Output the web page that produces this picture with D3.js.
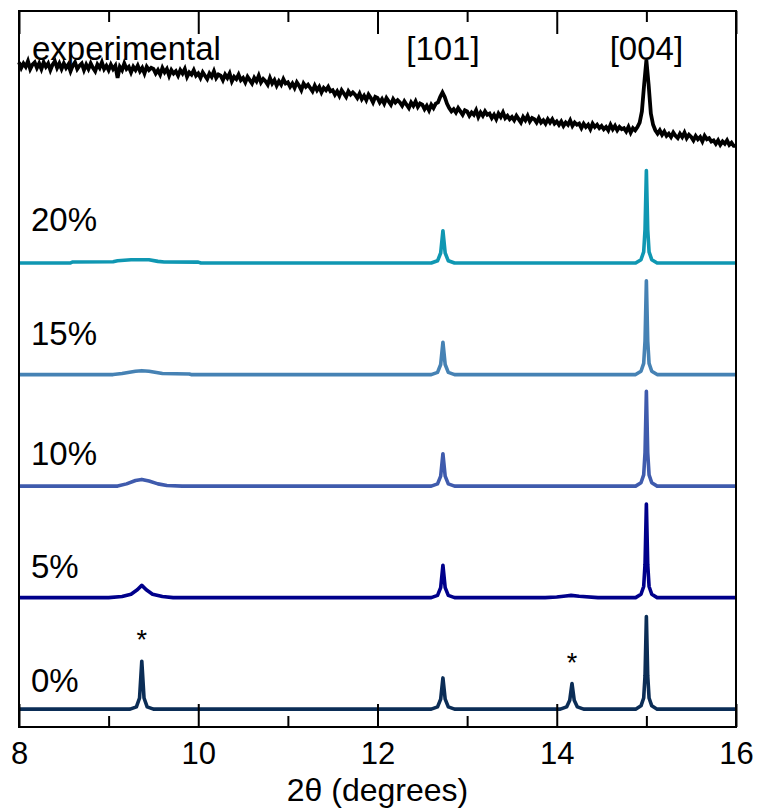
<!DOCTYPE html>
<html>
<head>
<meta charset="utf-8">
<script src="https://cdn.jsdelivr.net/npm/d3@7"></script>
<style>
	body { margin: 0; background: #fff; }
	text { font-family: 'Liberation Sans', Arial, Helvetica, sans-serif; fill: #000; }
</style>
</head>
<body>
<svg id="chart" width="760" height="809"></svg>
<script>
// NOTE data (intensity, arbitrary units, before stacking)
const xMajor = [8, 10, 12, 14, 16];
const xMinor = [9, 11, 13, 15];

const seriesNames = ['0%', '5%', '10%', '15%', '20%'];
const seriesColors = ['#0b2d56', '#00008b', '#3f5bad', '#4682b4', '#0f97b2'];

// experimental scan, one value every 0.025 deg from 8 to 16
const expStart = 8;
const expStep = 0.025;
const expValues = [
	0.80, 0.75, 0.79, 0.76, 0.81, 0.74, 0.78, 0.80, 0.75, 0.79,
	0.74, 0.80, 0.76, 0.79, 0.73, 0.78, 0.81, 0.75, 0.79, 0.74,
	0.79, 0.75, 0.78, 0.72, 0.77, 0.80, 0.74, 0.77, 0.79, 0.73,
	0.78, 0.74, 0.79, 0.75, 0.72, 0.78, 0.75, 0.80, 0.74, 0.77,
	0.73, 0.78, 0.74, 0.77, 0.66, 0.76, 0.73, 0.79, 0.74, 0.76,
	0.71, 0.76, 0.73, 0.77, 0.72, 0.75, 0.70, 0.76, 0.73, 0.75,
	0.74, 0.70, 0.73, 0.69, 0.75, 0.71, 0.74, 0.68, 0.73, 0.70,
	0.72, 0.68, 0.73, 0.70, 0.74, 0.67, 0.71, 0.69, 0.73, 0.68,
	0.70, 0.66, 0.71, 0.68, 0.65, 0.70, 0.67, 0.72, 0.66, 0.69,
	0.68, 0.64, 0.69, 0.66, 0.70, 0.63, 0.67, 0.65, 0.69, 0.64,
	0.66, 0.62, 0.67, 0.64, 0.61, 0.66, 0.63, 0.68, 0.62, 0.65,
	0.63, 0.60, 0.66, 0.61, 0.64, 0.59, 0.63, 0.60, 0.65, 0.61,
	0.62, 0.58, 0.61, 0.57, 0.62, 0.59, 0.55, 0.61, 0.58, 0.60,
	0.57, 0.54, 0.59, 0.55, 0.58, 0.53, 0.57, 0.55, 0.58, 0.54,
	0.55, 0.51, 0.54, 0.50, 0.55, 0.52, 0.49, 0.54, 0.51, 0.53,
	0.51, 0.48, 0.52, 0.47, 0.50, 0.46, 0.51, 0.48, 0.44, 0.49,
	0.48, 0.44, 0.47, 0.43, 0.48, 0.45, 0.42, 0.47, 0.44, 0.46,
	0.44, 0.41, 0.45, 0.42, 0.39, 0.44, 0.41, 0.45, 0.40, 0.43,
	0.42, 0.38, 0.41, 0.37, 0.42, 0.39, 0.43, 0.44, 0.49, 0.53,
	0.49, 0.43, 0.39, 0.36, 0.38, 0.35, 0.39, 0.36, 0.33, 0.37,
	0.36, 0.32, 0.35, 0.33, 0.37, 0.31, 0.35, 0.32, 0.36, 0.33,
	0.34, 0.30, 0.33, 0.29, 0.34, 0.31, 0.35, 0.30, 0.32, 0.29,
	0.31, 0.28, 0.32, 0.29, 0.26, 0.31, 0.28, 0.32, 0.27, 0.30,
	0.29, 0.26, 0.30, 0.26, 0.28, 0.25, 0.29, 0.26, 0.29, 0.25,
	0.27, 0.24, 0.27, 0.23, 0.26, 0.24, 0.28, 0.23, 0.26, 0.24,
	0.25, 0.21, 0.25, 0.22, 0.24, 0.20, 0.25, 0.22, 0.24, 0.21,
	0.23, 0.20, 0.22, 0.19, 0.24, 0.20, 0.23, 0.19, 0.22, 0.20,
	0.21, 0.18, 0.22, 0.17, 0.21, 0.19, 0.22, 0.26, 0.36, 0.60,
	0.82, 0.60, 0.34, 0.24, 0.19, 0.16, 0.19, 0.15, 0.18, 0.14,
	0.16, 0.13, 0.17, 0.14, 0.12, 0.16, 0.13, 0.17, 0.12, 0.15,
	0.13, 0.10, 0.14, 0.11, 0.13, 0.09, 0.14, 0.11, 0.12, 0.09,
	0.10, 0.07, 0.10, 0.06, 0.09, 0.07, 0.10, 0.06, 0.08, 0.05,
	0.05,
];

// simulated patterns, [2theta, intensity]
const sim0 = [
	[8, 0], [9.24, 0], [9.31, 0.02], [9.345, 0.1], [9.37, 0.43], [9.395, 0.1], [9.43, 0.02], [9.5, 0],
	[12.6, 0], [12.67, 0.02], [12.705, 0.09], [12.73, 0.28], [12.755, 0.09], [12.79, 0.02], [12.86, 0],
	[14.04, 0], [14.11, 0.02], [14.145, 0.08], [14.17, 0.23], [14.195, 0.08], [14.23, 0.02], [14.3, 0],
	[14.88, 0], [14.94, 0.03], [14.97, 0.1], [14.985, 0.3], [15.0, 0.83], [15.015, 0.3], [15.03, 0.1], [15.06, 0.03], [15.12, 0],
	[16, 0],
];
const sim5 = [
	[8, 0], [9.0, 0], [9.15, 0.01], [9.25, 0.03], [9.32, 0.07], [9.37, 0.11], [9.42, 0.07], [9.49, 0.03], [9.6, 0.01], [9.72, 0],
	[12.6, 0], [12.67, 0.02], [12.705, 0.09], [12.73, 0.29], [12.755, 0.09], [12.79, 0.02], [12.86, 0],
	[13.87, 0], [14.0, 0.005], [14.1, 0.015], [14.16, 0.02], [14.25, 0.012], [14.46, 0],
	[14.88, 0], [14.94, 0.03], [14.97, 0.1], [14.985, 0.3], [15.0, 0.84], [15.015, 0.3], [15.03, 0.1], [15.06, 0.03], [15.12, 0],
	[16, 0],
];
const sim10 = [
	[8, 0], [9.1, 0], [9.2, 0.02], [9.3, 0.05], [9.37, 0.06], [9.45, 0.045], [9.55, 0.02], [9.65, 0.005], [9.82, 0],
	[12.6, 0], [12.67, 0.02], [12.705, 0.09], [12.73, 0.29], [12.755, 0.09], [12.79, 0.02], [12.86, 0],
	[14.88, 0], [14.94, 0.03], [14.97, 0.1], [14.985, 0.3], [15.0, 0.85], [15.015, 0.3], [15.03, 0.1], [15.06, 0.03], [15.12, 0],
	[16, 0],
];
const sim15 = [
	[8, 0], [9.05, 0], [9.15, 0.01], [9.3, 0.03], [9.37, 0.035], [9.45, 0.03], [9.6, 0.01], [9.9, 0.005], [9.92, 0],
	[12.6, 0], [12.67, 0.02], [12.705, 0.09], [12.73, 0.29], [12.755, 0.09], [12.79, 0.02], [12.86, 0],
	[14.88, 0], [14.94, 0.03], [14.97, 0.1], [14.985, 0.3], [15.0, 0.84], [15.015, 0.3], [15.03, 0.1], [15.06, 0.03], [15.12, 0],
	[16, 0],
];
const sim20 = [
	[8, 0], [8.57, 0], [8.6, 0.01], [9.05, 0.012], [9.1, 0.02], [9.25, 0.03], [9.45, 0.03], [9.55, 0.015], [9.62, 0.01], [10.0, 0.008], [10.03, 0],
	[12.6, 0], [12.67, 0.02], [12.705, 0.09], [12.73, 0.29], [12.755, 0.09], [12.79, 0.02], [12.86, 0],
	[14.88, 0], [14.94, 0.03], [14.97, 0.1], [14.985, 0.3], [15.0, 0.83], [15.015, 0.3], [15.03, 0.1], [15.06, 0.03], [15.12, 0],
	[16, 0],
];
const simSeries = [sim0, sim5, sim10, sim15, sim20];

const peakLabels = ['[101]', '[004]'];
const peakLabelX = [12.73, 15.0];
const impurityX = [9.37, 14.17];

// NOTE layout
var svg = d3.select('#chart'),
	width = +svg.attr('width'),
	height = +svg.attr('height');

const margin = { top: 11, right: 24, bottom: 82, left: 19 };
const innerW = width - margin.left - margin.right;
const innerH = height - margin.top - margin.bottom;
const offsets = [0, 1, 2, 3, 4];
const expOffset = 5;

var x = d3.scaleLinear().domain([8, 16]).range([0, innerW]);
var y = d3.scaleLinear().domain([-0.16, 6.26]).range([innerH, 0]);

var g = svg
	.append('g')
	.attr('transform', 'translate(' + margin.left + ',' + margin.top + ')');

var line = d3
	.line()
	.x((d) => x(d[0]))
	.y((d) => y(d[1]));

// simulated curves
simSeries.forEach((pts, i) => {
	g.append('path')
		.datum(pts.map((p) => [p[0], p[1] + offsets[i]]))
		.attr('d', line)
		.attr('fill', 'none')
		.attr('stroke', seriesColors[i])
		.attr('stroke-width', 3.6)
		.attr('stroke-linejoin', 'round');
});

// experimental curve
var expPts = expValues.map((v, i) => [expStart + i * expStep, v + expOffset]);
g.append('path')
	.datum(expPts)
	.attr('d', line)
	.attr('fill', 'none')
	.attr('stroke', '#000')
	.attr('stroke-width', 3.8)
	.attr('stroke-linejoin', 'miter');

// labels
const labelY = [692, 578, 465, 345, 231];
seriesNames.forEach((name, i) => {
	svg.append('text')
		.attr('x', 31)
		.attr('y', labelY[i])
		.attr('font-size', 33)
		.text(name);
});
svg.append('text').attr('x', 32).attr('y', 60).attr('font-size', 33).text('experimental');

peakLabels.forEach((lab, i) => {
	g.append('text')
		.attr('x', x(peakLabelX[i]))
		.attr('y', 60 - margin.top)
		.attr('text-anchor', 'middle')
		.attr('font-size', 33)
		.text(lab);
});

const starY = [y(0.43) - 12, y(0.23) - 12];
impurityX.forEach((v, i) => {
	g.append('text')
		.attr('x', x(v))
		.attr('y', starY[i])
		.attr('text-anchor', 'middle')
		.attr('font-size', 27)
		.text('*');
});

// NOTE axes, ticks point inward
function styleAxis(sel) {
	sel.select('.domain').remove();
	sel.selectAll('.tick line').attr('stroke', '#000').attr('stroke-width', 2);
	sel.selectAll('.tick text')
		.attr('font-size', 31)
		.attr('font-family', "'Liberation Sans', Arial, sans-serif");
}

g.append('g')
	.attr('transform', 'translate(0,' + innerH + ')')
	.call(d3.axisBottom(x).tickValues(xMajor).tickSize(-23).tickPadding(15).tickFormat(d3.format('d')))
	.call(styleAxis);
g.append('g')
	.attr('transform', 'translate(0,' + innerH + ')')
	.call(d3.axisBottom(x).tickValues(xMinor).tickSize(-11).tickFormat(''))
	.call(styleAxis);
g.append('g')
	.call(d3.axisTop(x).tickValues(xMajor).tickSize(-23).tickFormat(''))
	.call(styleAxis);
g.append('g')
	.call(d3.axisTop(x).tickValues(xMinor).tickSize(-11).tickFormat(''))
	.call(styleAxis);

g.append('rect')
	.attr('width', innerW)
	.attr('height', innerH)
	.attr('fill', 'none')
	.attr('stroke', '#000')
	.attr('stroke-width', 2);

svg.append('text')
	.attr('x', margin.left + innerW / 2)
	.attr('y', 801)
	.attr('text-anchor', 'middle')
	.attr('font-size', 32)
	.text('2θ (degrees)');
</script>
</body>
</html>
